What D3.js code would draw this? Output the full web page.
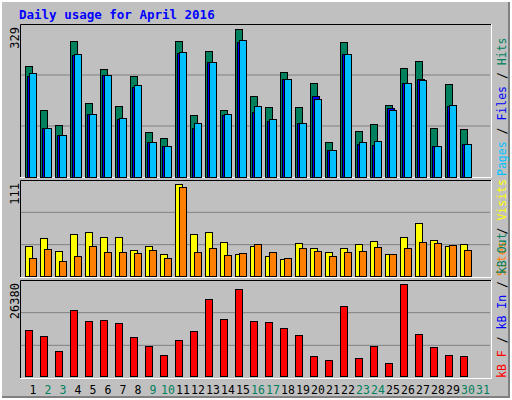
<!DOCTYPE html><html><head><meta charset="utf-8">
<script src="https://cdn.jsdelivr.net/npm/d3@7"></script>
<style>body{margin:0}svg{display:block}</style></head><body><svg id="c" width="512" height="400"></svg>
<script>
const days=d3.range(1,32);
const weekend=[2,3,9,10,16,17,23,24,30,31];
const hits=[246,148,115,302,164,240,157,224,101,86,302,137,280,148,329,179,155,233,155,208,77,300,103,117,161,242,257,110,206,106];
const files=[224,110,93,272,139,226,128,199,77,68,276,108,255,137,300,144,124,217,119,179,59,273,74,72,153,208,217,70,157,74];
const pages=[231,110,94,273,141,226,132,204,77,68,278,121,255,139,304,157,130,217,121,173,59,273,77,79,150,208,215,68,159,74];
const visits=[36,46,30,51,53,47,47,31,36,27,111,51,53,41,27,36,24,21,40,34,29,34,39,42,27,47,64,43,36,39];
const sites=[22,33,18,24,36,29,29,28,31,22,107,29,34,25,28,39,29,22,34,30,24,29,30,35,27,34,41,40,37,31];
const kbytes=[13090,11370,7170,18830,15670,15960,15200,11090,8510,5920,10230,12810,21980,16250,24850,15670,15390,13670,11660,5640,4490,19980,5070,8510,3630,26380,11950,8220,5920,5640];
const maxLabels=["329","111","26380"];

const svg=d3.select("#c");
svg.append("rect").attr("width",512).attr("height",400).attr("fill","#fff");
svg.append("rect").attr("x",2).attr("y",2).attr("width",508).attr("height",396).attr("fill","#808080");
svg.append("rect").attr("x",2).attr("y",2).attr("width",506).attr("height",394).attr("fill","#c0c0c0");
const font="'DejaVu Sans Mono',monospace";
svg.append("text").attr("x",19).attr("y",19).attr("fill","#0000ff").attr("font-family",font).attr("font-weight","bold").attr("font-size",12.5).text("Daily usage for April 2016");

const x=d3.scaleBand().domain(days).range([25,490]).paddingInner(0).paddingOuter(0);
const panels=[{t:24,b:177},{t:180,b:277},{t:280,b:378}];
panels.forEach((p,i)=>{
  svg.append("rect").attr("x",20).attr("y",p.t).attr("width",471).attr("height",p.b-p.t).attr("fill","#c0c0c0");
  const h=(p.b-p.t)/3;
  [1,2].forEach(k=>svg.append("line").attr("x1",21).attr("x2",490).attr("y1",p.b-k*h).attr("y2",p.b-k*h).attr("stroke","#808080"));
  svg.append("path").attr("d",`M20.5,${p.b}V${p.t+0.5}H491`).attr("stroke","#000").attr("fill","none");
  svg.append("path").attr("d",`M20,${p.b+0.5}H491.5V${p.t}`).attr("stroke","#fff").attr("fill","none");
  svg.append("text").attr("transform",`translate(19,${p.t+3}) rotate(-90)`).attr("text-anchor","end").attr("font-family",font).attr("font-size",12).attr("fill","#000").text(maxLabels[i]);
});
const yT=d3.scaleLinear().domain([0,329]).range([177,29]);
const yM=d3.scaleLinear().domain([0,111]).range([276,184]);
const yB=d3.scaleLinear().domain([0,26380]).range([376,284]);
function bars(data,y,dx,w,col){
  svg.append("g").selectAll("rect").data(data).join("rect")
   .attr("x",(d,i)=>x(i+1)+dx+0.5).attr("y",d=>Math.round(y(d))+0.5).attr("width",w)
   .attr("height",d=>y(0)-Math.round(y(d))).attr("fill",col).attr("stroke","#000");
}
bars(hits,yT,0,7,"#00805c");
bars(files,yT,2,7,"#0000ff");
bars(pages,yT,4,7,"#00c0ff");
bars(visits,yM,0,7,"#ffff00");
bars(sites,yM,4,7,"#ff8000");
bars(kbytes,yB,0,7,"#ff0000");

svg.append("g").selectAll("text").data(days).join("text")
 .attr("x",d=>x(d)+8).attr("y",394).attr("text-anchor","middle").attr("font-family",font).attr("font-size",11.5)
 .attr("fill",d=>weekend.includes(d)?"#00805c":"#000").text(d=>d);

function side(y,parts){
  const t=svg.append("text").attr("transform",`translate(506,${y}) rotate(-90)`).attr("font-family",font).attr("font-size",11.5);
  parts.forEach(([s,c])=>t.append("tspan").attr("fill",c).text(s));
}
side(176,[["Pages","#00c0ff"],[" / ","#000"],["Files","#0000ff"],[" / ","#000"],["Hits","#00805c"]]);
side(276,[["Sites","#ff8000"],[" / ","#000"],["Visits","#ffff00"]]);
side(378,[["kB F","#ff0000"],[" / ","#000"],["kB In","#0000ff"],[" / ","#000"],["kB Out","#00805c"]]);
</script></body></html>
